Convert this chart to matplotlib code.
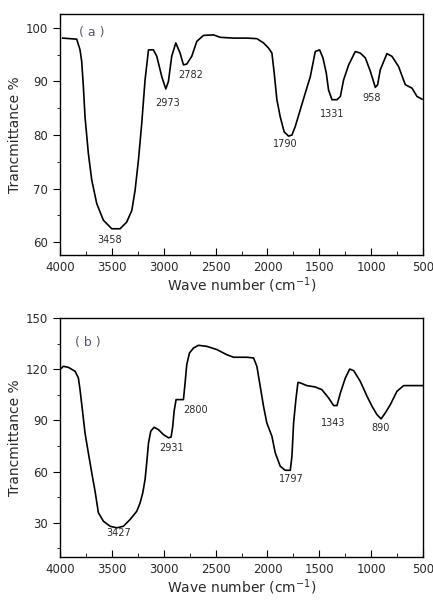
import numpy as np
import matplotlib.pyplot as plt
from matplotlib.ticker import MultipleLocator

# (a) spectrum
wn_a = [3974, 3839, 3807, 3791, 3775, 3759, 3727, 3694, 3646, 3582, 3501, 3421, 3357, 3308,
        3276, 3244, 3212, 3180, 3147, 3099, 3067, 3019, 2980, 2955, 2923, 2884, 2842, 2810,
        2778, 2730, 2681, 2617, 2520, 2456, 2327, 2199, 2102, 2038, 1990, 1957, 1935, 1909,
        1877, 1839, 1797, 1764, 1732, 1684, 1636, 1587, 1539, 1497, 1465, 1433, 1411, 1378,
        1330, 1297, 1266, 1217, 1153, 1105, 1056, 1008, 960, 938, 912, 848, 800, 736, 671,
        606, 558, 510]
t_a = [98.1, 97.9, 95.9, 93.75, 89.1, 83.4, 76.6, 71.6, 67.2, 64.1, 62.5, 62.5, 63.75, 65.9,
       69.7, 75.3, 82.2, 90.3, 95.9, 95.9, 94.7, 90.9, 88.6, 90.0, 94.7, 97.2, 95.3, 93.1,
       93.25, 94.7, 97.5, 98.6, 98.7, 98.25, 98.1, 98.1, 98.0, 97.2, 96.25, 95.3, 91.6, 86.6,
       83.4, 80.6, 79.8, 80.0, 81.6, 84.7, 87.8, 90.9, 95.6, 95.9, 94.4, 91.6, 88.4, 86.6,
       86.6, 87.2, 90.3, 93.1, 95.6, 95.3, 94.4, 91.9, 88.9, 89.4, 92.2, 95.2, 94.7, 92.8, 89.4,
       88.75, 87.2, 86.7]
peaks_a = ['3458', '2973', '2782', '1790', '1331', '958']
peak_x_a = [3524, 2964, 2738, 1830, 1374, 992]
peak_y_a = [60.4, 86.0, 91.25, 78.3, 84.0, 86.9]

# (b) spectrum
wn_b = [4000, 3968, 3920, 3855, 3823, 3807, 3781, 3759, 3727, 3694, 3662, 3630, 3582, 3517,
        3453, 3389, 3324, 3260, 3228, 3202, 3180, 3164, 3147, 3125, 3093, 3051, 3003, 2954,
        2929, 2913, 2900, 2881, 2810, 2794, 2778, 2752, 2713, 2665, 2585, 2488, 2392, 2327,
        2199, 2134, 2102, 2070, 2038, 2006, 1957, 1925, 1877, 1829, 1780, 1764, 1748, 1726,
        1706, 1684, 1620, 1539, 1475, 1411, 1362, 1330, 1297, 1249, 1207, 1169, 1105, 1040,
        992, 944, 905, 864, 815, 751, 687, 500]
t_b = [119.8, 121.7, 121.1, 118.8, 114.9, 108.0, 94.4, 82.7, 71.0, 59.3, 48.5, 35.9, 31.0, 28.0,
       27.1, 28.0, 32.0, 36.8, 41.7, 47.6, 55.4, 65.1, 76.8, 83.7, 86.0, 84.6, 81.7, 79.8,
       80.3, 86.6, 95.4, 102.2, 102.2, 112.0, 122.7, 129.5, 132.4, 134.0, 133.4, 131.5, 128.5, 127.0,
       127.0, 126.6, 121.7, 110.0, 98.3, 88.5, 80.7, 71.0, 63.2, 60.8, 60.8, 69.0, 88.5, 102.2,
       112.3, 112.0, 110.4, 109.6, 108.0, 103.2, 98.7, 98.7, 106.1, 114.9, 120.1, 119.2, 112.9, 104.1,
       98.3, 93.4, 90.9, 94.4, 99.3, 107.1, 110.4, 110.4]
peaks_b = ['3427', '2931', '2800', '1797', '1343', '890']
peak_x_b = [3437, 2922, 2697, 1774, 1362, 914]
peak_y_b = [24.0, 73.9, 96.3, 55.4, 88.5, 85.6]

txt = '#2a2a2a'
fig = plt.figure(figsize=(4.33, 6.01), dpi=100)
ax1 = fig.add_axes([0.1386, 0.5757, 0.8384, 0.401])
ax2 = fig.add_axes([0.1386, 0.0732, 0.8384, 0.3977])

panels = [(ax1, wn_a, t_a, peaks_a, peak_x_a, peak_y_a, '( a )', (3694, 99.1), (57.6, 102.6), 10, 5),
          (ax2, wn_b, t_b, peaks_b, peak_x_b, peak_y_b, '( b )', (3736, 135.8), (10, 150), 30, 15)]

for ax, x, y, lab, lx, ly, tag, tpos, ylim, maj, mnr in panels:
    ax.plot(x, y, color='black', lw=1.2)
    for s, px, py in zip(lab, lx, ly):
        ax.text(px, py, s, ha='center', va='center', fontsize=7, color=txt)
    ax.text(tpos[0], tpos[1], tag, ha='center', va='center', fontsize=9, color='#555577')
    ax.set_xlim(4000, 500)
    ax.set_ylim(*ylim)
    ax.xaxis.set_major_locator(MultipleLocator(500))
    ax.xaxis.set_minor_locator(MultipleLocator(250))
    ax.yaxis.set_major_locator(MultipleLocator(maj))
    ax.yaxis.set_minor_locator(MultipleLocator(mnr))
    ax.tick_params(axis='x', which='both', direction='in', labelsize=8.5, labelcolor=txt, pad=4)
    ax.tick_params(axis='x', which='major', length=5)
    ax.tick_params(axis='x', which='minor', length=3)
    ax.tick_params(axis='y', which='both', direction='out', labelsize=8.5, labelcolor=txt)
    ax.tick_params(axis='y', which='major', length=5)
    ax.tick_params(axis='y', which='minor', length=2.5)
    ax.set_xlabel('Wave number (cm$^{-1}$)', fontsize=10, color=txt, labelpad=1)
    ax.set_ylabel('Trancmittance %', fontsize=10, color=txt, labelpad=3)
    for sp in ax.spines.values():
        sp.set_linewidth(1)

ax1.set_yticks([60, 70, 80, 90, 100])
ax2.set_yticks([30, 60, 90, 120, 150])

plt.savefig('out.png', dpi=100)
